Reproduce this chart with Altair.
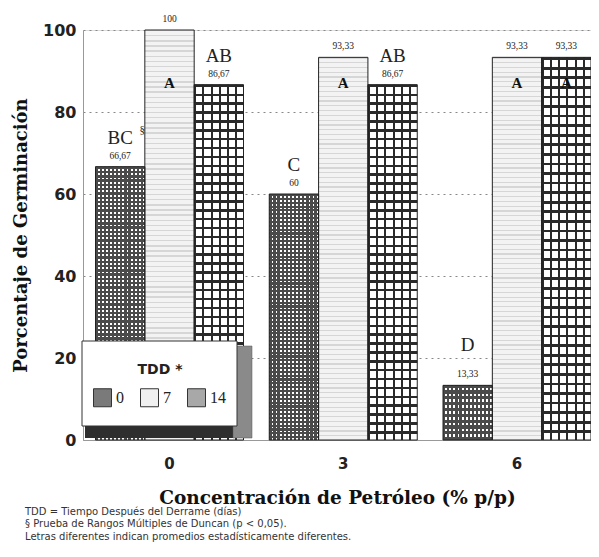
import altair as alt
import pandas as pd

# ---- data ----
conc = ["0", "0", "0", "3", "3", "3", "6", "6", "6"]
tdd = ["0", "7", "14", "0", "7", "14", "0", "7", "14"]
values = [66.67, 100, 86.67, 60, 93.33, 86.67, 13.33, 93.33, 93.33]
value_labels = ["66,67", "100", "86,67", "60", "93,33", "86,67", "13,33", "93,33", "93,33"]
letters = ["BC", "A", "AB", "C", "A", "AB", "D", "A", "A"]
letter_place = ["above", "inside", "above", "above", "inside", "above", "above", "inside", "inside"]
superscripts = ["§", "", "", "", "", "", "", "", ""]
tdd_order = ["0", "7", "14"]
conc_order = ["0", "3", "6"]
footnotes = [
    "TDD = Tiempo Después del Derrame (días)",
    "§ Prueba de Rangos Múltiples de Duncan (p < 0,05).",
    "Letras diferentes indican promedios estadísticamente diferentes.",
]

df = pd.DataFrame({
    "Conc": conc, "TDD": tdd, "value": values, "vlabel": value_labels,
    "letter": letters, "place": letter_place, "sup": superscripts,
})

W, H = 508, 410
SERIF = "DejaVu Serif"
TSERIF = "Liberation Serif"
SANS = "DejaVu Sans"

x_enc = alt.X("Conc:N", sort=conc_order,
              scale=alt.Scale(paddingInner=0.1482, paddingOuter=0.036, align=1),
              axis=alt.Axis(title="Concentración de Petróleo (% p/p)", labelAngle=0,
                            labelFont=SANS, labelFontSize=15, labelFontWeight="bold",
                            labelColor="#222", labelPadding=16, ticks=False,
                            domainColor="#999", titleFont=SERIF, titleFontSize=18.5,
                            titleFontWeight="bold", titleColor="#111", titlePadding=17))
xo_enc = alt.XOffset("TDD:N", sort=tdd_order,
                     scale=alt.Scale(domain=tdd_order, paddingInner=0, paddingOuter=0))
y_enc = alt.Y("value:Q", scale=alt.Scale(domain=[0, 100]),
              axis=alt.Axis(title="Porcentaje de Germinación", values=[0, 20, 40, 60, 80, 100],
                            labelFont=SANS, labelFontSize=16, labelFontWeight="bold",
                            labelColor="#222", labelPadding=7, ticks=False, domainColor="#999",
                            grid=True, gridDash=[2, 4], gridColor="#888", gridWidth=1,
                            titleFont=SERIF, titleFontSize=18, titleFontWeight="bold",
                            titleColor="#111", titlePadding=12))

base = alt.Chart(df)


def stripes(n, frac, color, direction):
    stops = []
    clear = "rgba(0,0,0,0)"
    for i in range(n):
        a = i / n
        b = (i + frac) / n
        c = (i + 1) / n
        stops += [alt.GradientStop(offset=a, color=color),
                  alt.GradientStop(offset=b, color=color),
                  alt.GradientStop(offset=b, color=clear),
                  alt.GradientStop(offset=c, color=clear)]
    if direction == "x":
        return alt.LinearGradient(gradient="linear", stops=stops, x1=0, x2=1, y1=0, y2=0)
    return alt.LinearGradient(gradient="linear", stops=stops, x1=0, x2=0, y1=0, y2=1)


enc = dict(x=x_enc, xOffset=xo_enc, y=y_enc)

bars_base = base.mark_bar(strokeWidth=0).encode(
    color=alt.Color("TDD:N", sort=tdd_order,
                    scale=alt.Scale(domain=tdd_order, range=["#ffffff", "#f3f3f3", "#ffffff"]),
                    legend=None),
    **enc)

pat0_x = base.transform_filter("datum.TDD == '0'").mark_bar(
    fill=stripes(12, 0.55, "#4a4a4a", "x"), strokeWidth=0).encode(**enc)
pat0_y = base.transform_filter("datum.TDD == '0'").mark_bar(
    fill=stripes(64, 0.55, "#4a4a4a", "y"), strokeWidth=0).encode(**enc)
pat7_y = base.transform_filter("datum.TDD == '7'").mark_bar(
    fill=stripes(80, 0.25, "#d6d6d6", "y"), strokeWidth=0).encode(**enc)
pat14_x = base.transform_filter("datum.TDD == '14'").mark_bar(
    fill=stripes(6, 0.24, "#2a2a2a", "x"), strokeWidth=0).encode(**enc)
pat14_y = base.transform_filter("datum.TDD == '14'").mark_bar(
    fill=stripes(40, 0.28, "#2a2a2a", "y"), strokeWidth=0).encode(**enc)

outline = base.mark_bar(fillOpacity=0, stroke="#222", strokeWidth=1).encode(**enc)

legend_layer = base.mark_bar(opacity=0).encode(
    fill=alt.Fill("TDD:N", sort=tdd_order,
                  scale=alt.Scale(domain=tdd_order, range=["#7a7a7a", "#f0f0f0", "#a8a8a8"]),
                  legend=alt.Legend(orient="none", legendX=10, legendY=333, direction="horizontal",
                                    title="TDD *", titleFont=SANS, titleFontSize=14,
                                    titleFontWeight="bold", titleColor="#222",
                                    titleAnchor="middle", titlePadding=11,
                                    symbolType="square", symbolSize=324, symbolOpacity=1,
                                    symbolStrokeColor="#333", symbolStrokeWidth=1,
                                    labelFont=TSERIF, labelFontSize=16, labelColor="#222",
                                    labelOffset=4, columnPadding=14, padding=0)),
    **enc)

vlabels = base.mark_text(font=TSERIF, fontSize=9.5, color="#222", dy=-11, baseline="middle").encode(
    text="vlabel:N", **enc)
letters_above = base.transform_filter("datum.place == 'above' && datum.value >= 20").mark_text(
    font=TSERIF, fontSize=19, color="#222", dy=-29, baseline="middle").encode(text="letter:N", **enc)
letters_low = base.transform_filter("datum.place == 'above' && datum.value < 20").mark_text(
    font=TSERIF, fontSize=19, color="#222", dy=-40, baseline="middle").encode(text="letter:N", **enc)
letters_inside = base.transform_filter("datum.place == 'inside'").mark_text(
    font=TSERIF, fontSize=15, fontWeight="bold", color="#111", baseline="middle").encode(
    x=x_enc, xOffset=xo_enc, y=alt.datum(87), text="letter:N")
sups = base.transform_filter("datum.sup != ''").mark_text(
    font=TSERIF, fontSize=11, color="#222", dx=22, dy=-37, baseline="middle").encode(
    text="sup:N", **enc)

one = alt.Chart(pd.DataFrame({"k": [0]}))
box_bottom = one.mark_rect(fill="#2e2e2e").encode(
    x=alt.value(2), x2=alt.value(169), y=alt.value(394), y2=alt.value(408))
box_side = one.mark_rect(fill="#8a8a8a", stroke="#555", strokeWidth=0.5).encode(
    x=alt.value(150), x2=alt.value(169), y=alt.value(316), y2=alt.value(408))
box = one.mark_rect(fill="#ffffff", stroke="#333", strokeWidth=1).encode(
    x=alt.value(-1), x2=alt.value(154), y=alt.value(311), y2=alt.value(396))

notes = []
for i, ny in enumerate([482, 494, 507]):
    notes.append(one.mark_text(font=SANS, fontSize=10, color="#333", align="left",
                               baseline="middle").encode(
        x=alt.value(-58), y=alt.value(ny), text=alt.value(footnotes[i])))

chart = alt.layer(
    bars_base, pat0_x, pat0_y, pat7_y, pat14_x, pat14_y, outline, legend_layer,
    vlabels, letters_above, letters_low, letters_inside, sups,
    box_bottom, box_side, box, *notes
).resolve_scale(color="independent", fill="independent").properties(
    width=W, height=H,
    autosize=alt.AutoSizeParams(type="none"),
    padding={"left": 75, "top": 22, "right": 0, "bottom": 104},
).configure_view(stroke="#999", strokeWidth=1).configure(background="white")

chart.save("out.html", embed_options={"renderer": "svg", "actions": False})
